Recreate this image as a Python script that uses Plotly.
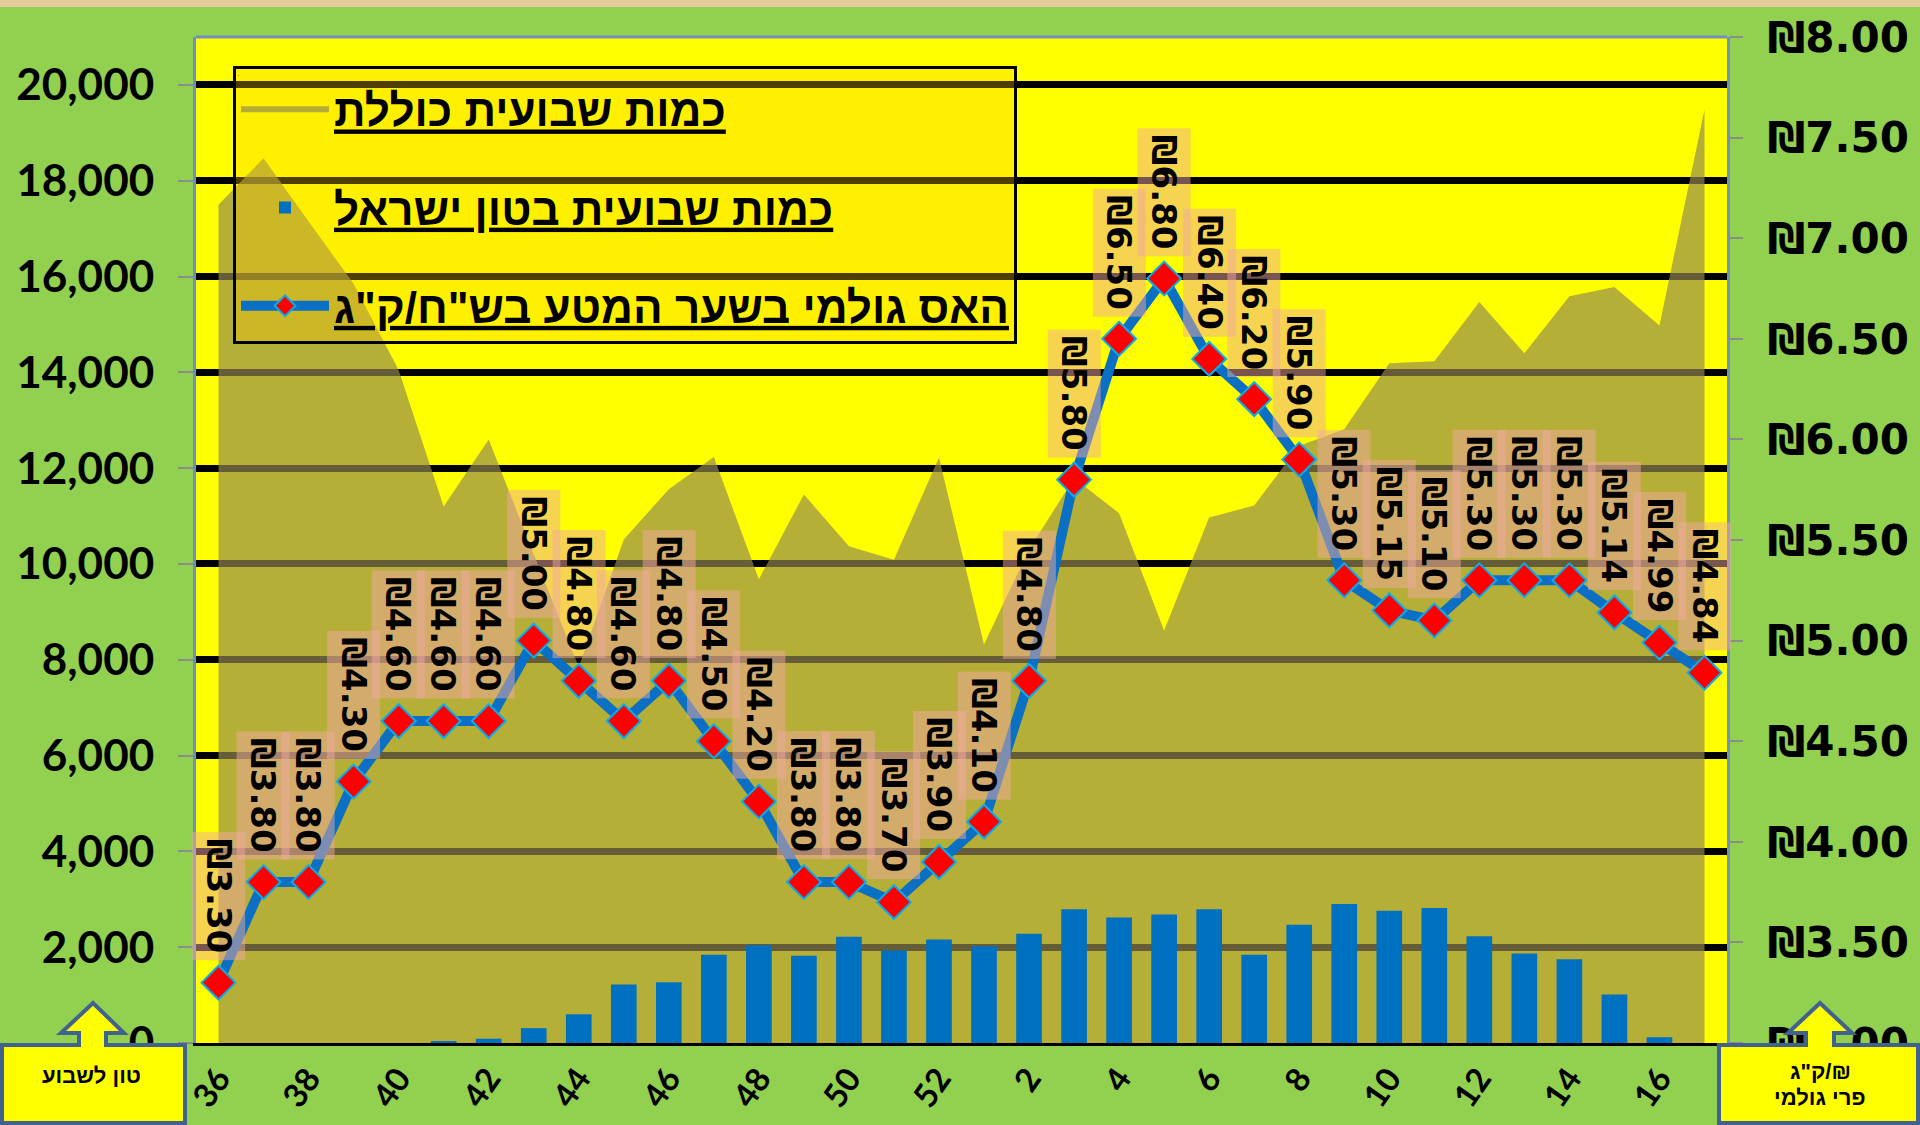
import plotly.graph_objects as go

# ---------------- data ----------------
weeks = ['36', '37', '38', '39', '40', '41', '42', '43', '44', '45', '46', '47', '48', '49', '50', '51', '52',
         '1', '2', '3', '4', '5', '6', '7', '8', '9', '10', '11', '12', '13', '14', '15', '16', '17']

total_tons = [17500, 18470, 17150, 15850, 14050, 11200, 12600, 10200, 7850, 10510, 11560, 12230, 9680, 11450,
              10370, 10090, 12220, 8320, 10300, 11790, 11060, 8610, 10970, 11220, 12470, 12810, 14190, 14230,
              15470, 14400, 15590, 15780, 14980, 19480]

israel_tons = [0, 0, 0, 0, 0, 40, 90, 310, 600, 1220, 1270, 1840, 2040, 1820, 2220, 1930, 2160,
               2020, 2280, 2790, 2620, 2680, 2790, 1840, 2470, 2900, 2760, 2820, 2230, 1870, 1750, 1010, 120, 0]

price = [3.30, 3.80, 3.80, 4.30, 4.60, 4.60, 4.60, 5.00, 4.80, 4.60, 4.80, 4.50, 4.20, 3.80, 3.80, 3.70, 3.90,
         4.10, 4.80, 5.80, 6.50, 6.80, 6.40, 6.20, 5.90, 5.30, 5.15, 5.10, 5.30, 5.30, 5.30, 5.14, 4.99, 4.84]

name_total = "כמות שבועית כוללת"
name_israel = "כמות שבועית בטון ישראל"
name_price = 'האס גולמי בשער המטע בש"ח/ק"ג'
left_box_text = "טון לשבוע"
right_box_line1 = 'ק"ג/₪'
right_box_line2 = "פרי גולמי"

# ---------------- geometry ----------------
W, H = 1920, 1125
ML, MR, MT, MB = 196, 193, 37, 82
PW, PH = W - ML - MR, H - MT - MB


def px(x):
    return (x - ML) / PW


def py(y):
    return (H - MB - y) / PH


def path(points):
    return "M" + " L".join(f"{px(x):.5f},{py(y):.5f}" for x, y in points) + " Z"


fig = go.Figure()

# total weekly quantity (area) on the base axis
fig.add_trace(go.Scatter(
    x=weeks, y=total_tons, name=name_total, mode="none", fill="tozeroy",
    fillcolor="rgba(147,137,81,0.68)", legendgroup="a", yaxis="y"))

# Israeli weekly quantity (bars) on an overlay axis so it is drawn above the area
fig.add_trace(go.Bar(
    x=weeks, y=israel_tons, name=name_israel, marker=dict(color="#0070C0", line=dict(width=0)),
    legendgroup="b", yaxis="y2"))

# price line on the right axis
fig.add_trace(go.Scatter(
    x=weeks, y=price, name=name_price, mode="lines+markers", yaxis="y3",
    line=dict(color="#0b6fc3", width=10),
    marker=dict(symbol="diamond", size=26, color="#FF0000", line=dict(color="#00B0F0", width=2)),
    legendgroup="c"))

annotations = []
for i, v in enumerate(price):
    annotations.append(dict(
        x=i, y=v, xref="x", yref="y3", text=f"₪{v:.2f}", textangle=90, showarrow=False,
        yanchor="bottom", xanchor="center", yshift=22, bgcolor="rgba(240,170,160,0.5)", borderpad=6,
        font=dict(family="DejaVu Sans", size=34, color="black", weight="bold")))

box_font = dict(family="Liberation Sans, DejaVu Sans", size=22, color="black", weight="bold")
annotations += [
    dict(x=px(92), y=py(1075), xref="paper", yref="paper", text=left_box_text, showarrow=False,
         xanchor="center", yanchor="middle", font=box_font),
    dict(x=px(1820), y=py(1071), xref="paper", yref="paper", text=right_box_line1, showarrow=False,
         xanchor="center", yanchor="middle", font=box_font),
    dict(x=px(1820), y=py(1097), xref="paper", yref="paper", text=right_box_line2, showarrow=False,
         xanchor="center", yanchor="middle", font=box_font),
]

border = "#41618f"
shapes = [
    dict(type="rect", xref="paper", yref="paper", x0=px(0), x1=px(W), y0=py(0), y1=py(7),
         fillcolor="#E6CC9C", line=dict(width=0), layer="above"),
    dict(type="line", xref="paper", yref="paper", x0=0, x1=1, y0=1, y1=1,
         line=dict(color="#7190bf", width=3), layer="above"),
    dict(type="path", xref="paper", yref="paper", layer="above", fillcolor="#FFFF00",
         line=dict(color=border, width=4),
         path=path([(2, 1045), (79, 1045), (79, 1033), (61, 1033), (93, 1003), (124, 1033), (106, 1033),
                    (106, 1045), (185, 1045), (185, 1123), (2, 1123)])),
    dict(type="path", xref="paper", yref="paper", layer="above", fillcolor="#FFFF00",
         line=dict(color=border, width=4),
         path=path([(1719, 1045), (1806, 1045), (1806, 1033), (1788, 1033), (1820, 1003), (1852, 1033),
                    (1834, 1033), (1834, 1045), (1918, 1045), (1918, 1123), (1719, 1123)])),
]

fig.update_layout(
    width=W, height=H, margin=dict(l=ML, r=MR, t=MT, b=MB, pad=0),
    paper_bgcolor="#92D050", plot_bgcolor="#FFFF00",
    bargap=0.43,
    showlegend=True,
    legend=dict(
        x=px(233), y=py(66), xanchor="left", yanchor="top",
        bgcolor="rgba(255,205,0,0.3)", bordercolor="black", borderwidth=3,
        font=dict(family="Liberation Sans, DejaVu Sans", size=44, color="black", weight="bold",
                  lineposition="under"),
        title=dict(text=" ", font=dict(size=4)),
        traceorder="grouped", tracegroupgap=38, itemwidth=88,
    ),
    xaxis=dict(
        type="category", range=[-0.5, len(weeks) - 0.5], tickmode="array", tickvals=weeks[::2],
        ticktext=weeks[::2], tickangle=-55, showgrid=False, zeroline=False,
        showline=True, linecolor="black", linewidth=3, ticks="",
        tickfont=dict(family="Lato", size=33, color="black", weight="bold"),
    ),
    yaxis=dict(
        range=[0, 21000], dtick=2000, tickformat=",d", showgrid=True, gridcolor="black", gridwidth=7,
        zeroline=False, showline=True, linecolor="#7190bf", linewidth=3,
        ticks="outside", ticklen=15, tickcolor="#8c8c8c", tickwidth=2, ticklabelstandoff=15,
        tickfont=dict(family="Lato", size=44, color="black", weight="bold"),
    ),
    yaxis2=dict(
        overlaying="y", side="left", range=[0, 21000], visible=False, showgrid=False, zeroline=False,
    ),
    yaxis3=dict(
        overlaying="y", side="right", range=[3, 8], dtick=0.5, tickprefix="₪", tickformat=".2f",
        showgrid=False, zeroline=False, showline=True, linecolor="#7190bf", linewidth=3,
        ticks="outside", ticklen=13, tickcolor="#8c8c8c", tickwidth=2, ticklabelstandoff=16,
        tickfont=dict(family="DejaVu Sans", size=42, color="black", weight="bold"),
    ),
    annotations=annotations,
    shapes=shapes,
)

fig.write_html("out.html", config={"displayModeBar": False},
               post_script="document.body.style.margin='0';document.body.style.overflow='hidden';")
